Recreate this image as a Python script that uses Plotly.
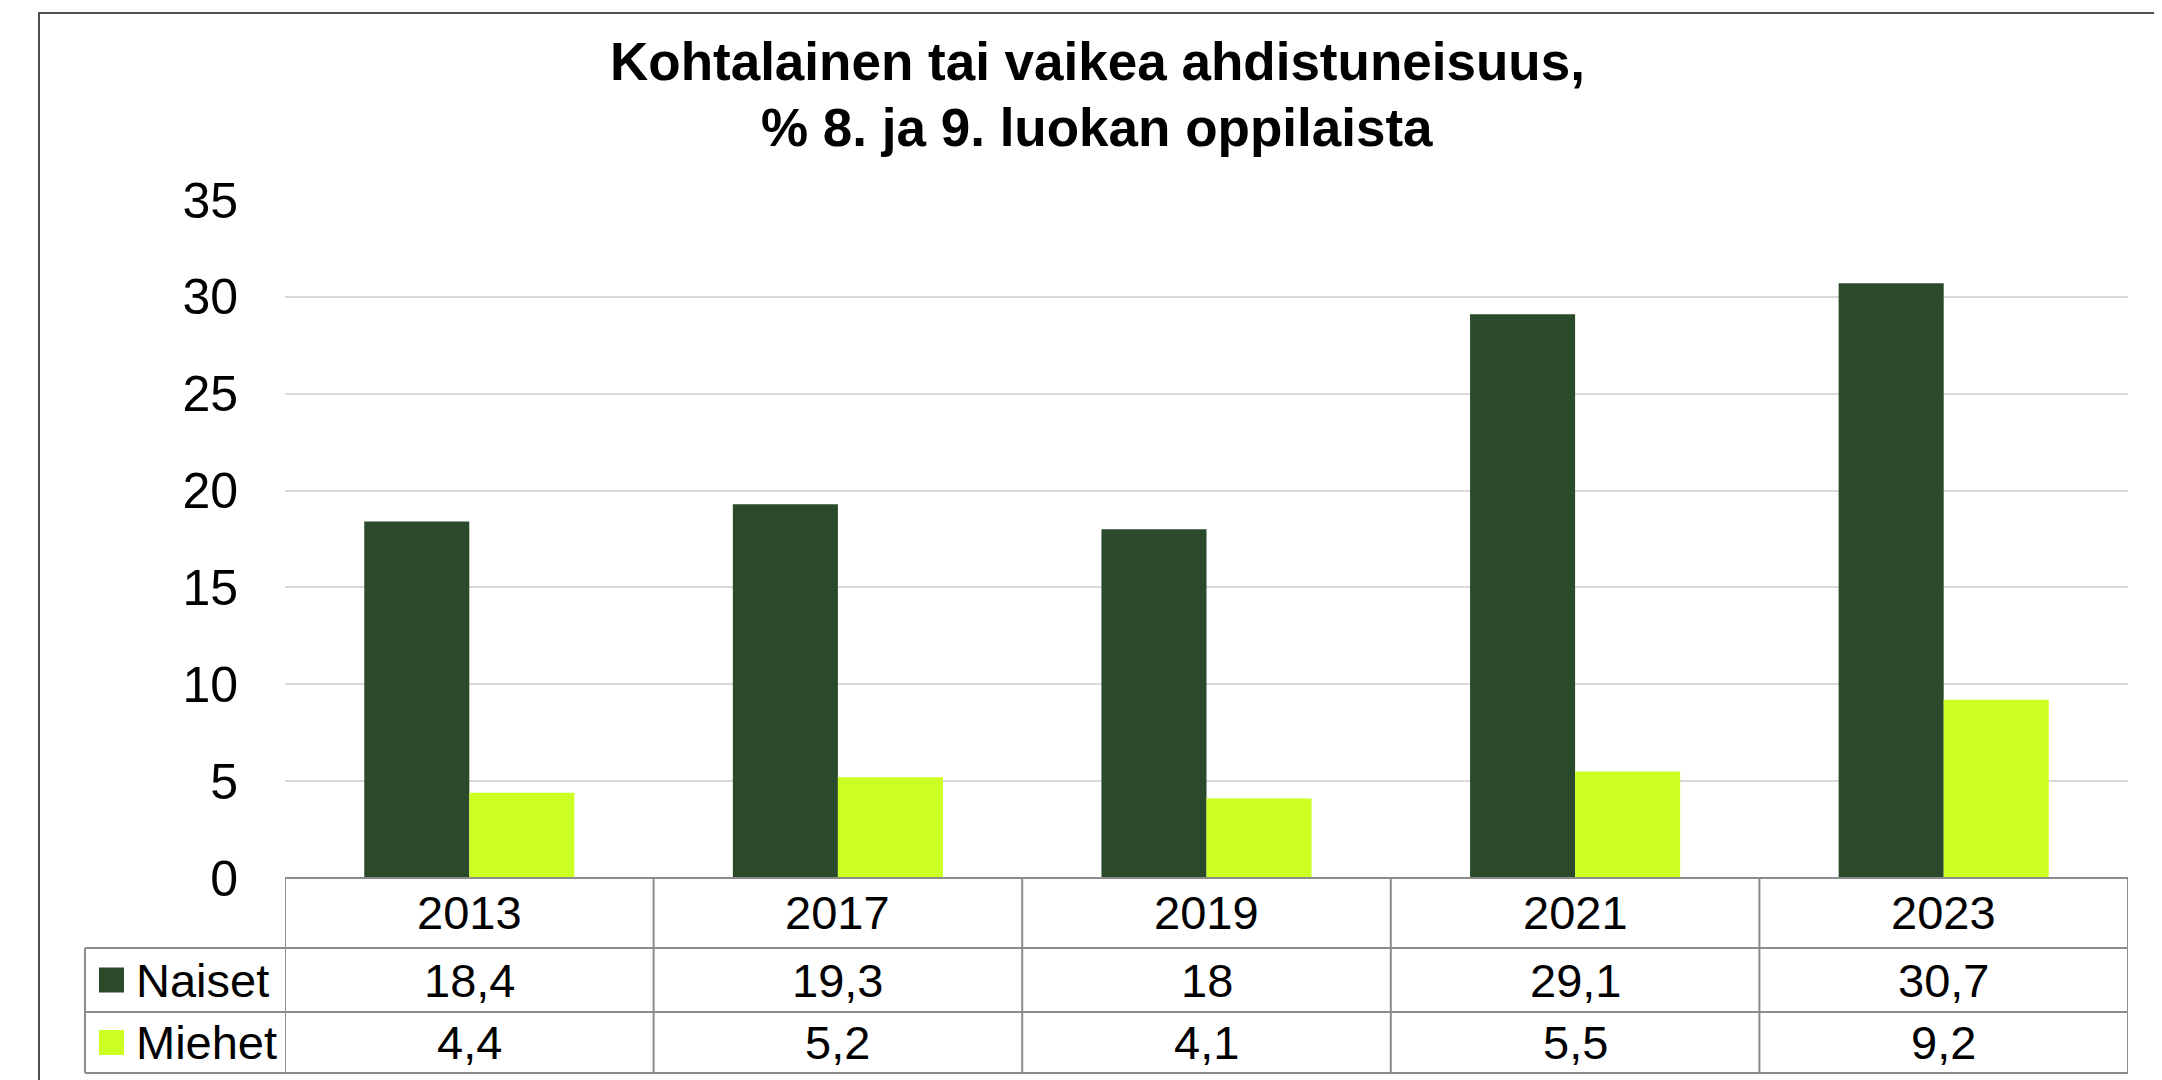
import plotly.graph_objects as go

# ---- data ----
years = ["2013", "2017", "2019", "2021", "2023"]
naiset = [18.4, 19.3, 18.0, 29.1, 30.7]
miehet = [4.4, 5.2, 4.1, 5.5, 9.2]
series_names = ["Naiset", "Miehet"]
y_ticks = [0, 5, 10, 15, 20, 25, 30, 35]
title_lines = ["Kohtalainen tai vaikea ahdistuneisuus,", "% 8. ja 9. luokan oppilaista"]

# ---- style ----
FONT = "Liberation Sans, Arial, sans-serif"
C_NAISET = "#2B4A2C"
C_MIEHET = "#CCFF22"
GRID = "#D9D9D9"
TABLE_LINE = "#8C8C8C"
OFF = 8  # page body margin
W, H = 2162 - OFF, 1080 - OFF
# plot area in reference-page pixels
L, R, T, B = 285, 2128, 200, 878


def px_x(px):
    return (px - L) / (R - L)


def px_y(py):
    return (B - py) / (B - T)


def fmt(v):
    return f"{v:g}".replace(".", ",")


fig = go.Figure()
fig.add_trace(go.Bar(x=years, y=naiset, name=series_names[0], marker=dict(color=C_NAISET, line=dict(width=0))))
fig.add_trace(go.Bar(x=years, y=miehet, name=series_names[1], marker=dict(color=C_MIEHET, line=dict(width=0))))

shapes = []
annotations = []

row_year = (878, 948)
row_n = (948, 1012)
row_m = (1012, 1073)
line_style = dict(color=TABLE_LINE, width=2)
TFONT = dict(size=47, color="black", family=FONT)

# horizontal lines
shapes.append(dict(type="line", xref="paper", yref="paper", x0=0, x1=1, y0=px_y(878), y1=px_y(878), line=line_style))
for py in (948, 1012, 1073):
    shapes.append(dict(type="line", xref="paper", yref="paper", x0=px_x(85), x1=1, y0=px_y(py), y1=px_y(py), line=line_style))
# vertical lines at category boundaries
for i in range(len(years) + 1):
    shapes.append(dict(type="line", xref="x", yref="paper", x0=i - 0.5, x1=i - 0.5, y0=px_y(878), y1=px_y(1073), line=line_style))
# legend column left border
shapes.append(dict(type="line", xref="paper", yref="paper", x0=px_x(85), x1=px_x(85), y0=px_y(948), y1=px_y(1073), line=line_style))

# year labels and values
for i, yr in enumerate(years):
    annotations.append(dict(x=i, xref="x", y=px_y(sum(row_year) / 2), yref="paper", text=yr, showarrow=False,
                            font=TFONT, yanchor="middle"))
    annotations.append(dict(x=i, xref="x", y=px_y(sum(row_n) / 2), yref="paper", text=fmt(naiset[i]), showarrow=False,
                            font=TFONT, yanchor="middle"))
    annotations.append(dict(x=i, xref="x", y=px_y(sum(row_m) / 2), yref="paper", text=fmt(miehet[i]), showarrow=False,
                            font=TFONT, yanchor="middle"))

# legend keys in table
for name, color, row in ((series_names[0], C_NAISET, row_n), (series_names[1], C_MIEHET, row_m)):
    cy = sum(row) / 2
    shapes.append(dict(type="rect", xref="paper", yref="paper", x0=px_x(99), x1=px_x(124),
                       y0=px_y(cy + 12.5), y1=px_y(cy - 12.5), fillcolor=color, line=dict(width=0)))
    annotations.append(dict(x=px_x(134), xref="paper", y=px_y(cy), yref="paper", text=name, showarrow=False,
                            xanchor="left", yanchor="middle", font=TFONT))

# title lines
for line, cy in zip(title_lines, (62, 127)):
    annotations.append(dict(x=px_x(1097), xref="paper", y=px_y(cy), yref="paper", text="<b>" + line + "</b>",
                            showarrow=False, xanchor="center", yanchor="middle",
                            font=dict(size=53, color="black", family=FONT)))

# outer border
shapes.append(dict(type="rect", xref="paper", yref="paper", x0=px_x(39), x1=px_x(2156), y0=px_y(1100), y1=px_y(13),
                   line=dict(color="#505050", width=2), fillcolor="rgba(0,0,0,0)", layer="below"))

fig.update_layout(
    width=W, height=H,
    margin=dict(l=L - OFF, r=W - (R - OFF), t=T - OFF, b=H - (B - OFF), pad=0),
    paper_bgcolor="white", plot_bgcolor="white",
    barmode="group", bargap=0.43, bargroupgap=0,
    showlegend=False,
    font=dict(family=FONT, color="black"),
    xaxis=dict(range=[-0.5, 4.5], showticklabels=False, showgrid=False, zeroline=False, showline=False, ticks=""),
    yaxis=dict(range=[0, 35], tickvals=y_ticks, showgrid=True, gridcolor=GRID, gridwidth=2, zeroline=False,
               showline=False, ticks="", tickfont=dict(size=50, family=FONT, color="black"), ticklabelstandoff=46),
    shapes=shapes,
    annotations=annotations,
)

fig.write_html("out.html")
